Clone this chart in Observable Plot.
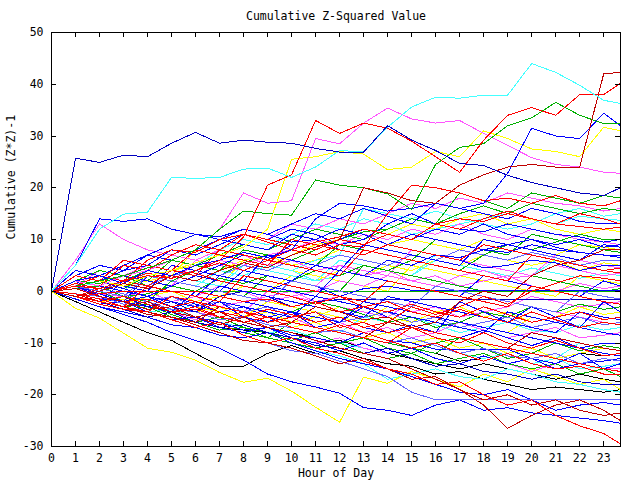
<!DOCTYPE html>
<html><head><meta charset="utf-8">
<script src="https://cdn.jsdelivr.net/npm/d3@7"></script>
<script src="https://cdn.jsdelivr.net/npm/@observablehq/plot@0.6"></script>
<style>body{margin:0;background:#fff;}</style>
</head><body><div id="chart"></div>
<script>
const title = "Cumulative Z-Squared Value";
const xLabel = "Hour of Day";
const yLabel = "Cumulative (Z*Z)-1";
const xTicks = [0,1,2,3,4,5,6,7,8,9,10,11,12,13,14,15,16,17,18,19,20,21,22,23];
const yTicks = [-30,-20,-10,0,10,20,30,40,50];
const hours = [0,1,2,3,4,5,6,7,8,9,10,11,12,13,14,15,16,17,18,19,20,21,22,23,23.7];

const A  = [0,25.7,24.9,26.3,26, 28.6,30.7,28.6,29.2,28.8, 28.6,27.6,26.9,26.9,32, 29.2,27.2,24.7,24.3,22.4, 21,20,19,18.5,20];
const B  = [0,5,12,14.9,15.3, 22,21.8,22,23.6,23.8, 22,24,27.2,26.9,31.7, 35.6,37.5,37.3,37.9,37.9, 44,42.3,39.8,36.9,36.3];
const R1 = [0,1,0.5,2,3, 2.5,4,6,10.5,20.5, 22.5,33,30.5,32.5,31.5, 29,26,23,29.2,34, 35.5,34,38,38,40.2];
const R2 = [0,-1,0,1.5,0.5, 3,2,4,5.5,4.5, 7,8.5,10,20,19, 17.5,17,20.5,22.5,24, 24.5,24,24,42,42.3];
const R3 = [0,1.5,0.5,2,3.5, 2.5,4,5.5,4,6, 8,7,9,8.5,15, 20.5,20,19,17.5,18, 17,18.5,17,16.5,17.5];
const R4 = [0,-1,0.5,2,6, 8,7.5,10,11,9.5, 8,9.5,10.5,12,11, 10,13,14,13.5,15, 14,13,12.5,12,12.4];
const R5 = [0,0.5,-1,-2,-1.5, -3,-2,-4,-5,-3.5, -4.5,-6,-5,-7,-6, -3,-4.5,-3,-1,-2.5, 0,1.5,3,2.5,2];
const R6 = [0,1,3,2,1, 4,3.5,2,1,0, -1,-2.5,-1,-3,-4, -2.5,-4,-5,-3,-4.5, -6,-5,-4,-5.5,-5];
const R7 = [0,-1,-2,-1,-2.5, -4,-3,-5,-4,-6, -5,-4,-7,-6,-8, -7,-9,-10,-8,-10, -11,-9.5,-11,-12.5,-12];
const R8 = [0,-0.5,-2,-3,-4.5, -5,-6.5,-8,-9.5,-10, -11,-12.5,-14,-13,-15, -17,-16.5,-19,-21,-20, -22,-21,-23,-24,-23.5];
const R9 = [0,-1,-2.5,-3.5,-4, -5.5,-7,-6,-8.5,-10, -9,-11,-12,-13.5,-15, -16,-18,-17.5,-20,-22, -21,-24,-26,-27.5,-29.5];
const R10 = [0,0.5,-1,-2,-3.5, -3,-5,-6.5,-5,-7, -8,-9.5,-11,-12,-13, -15,-17,-19,-22,-26.5, -24,-22,-21,-23,-25];
const R11 = [0,2,1,5,4, 7,9,8,11,10, 9,8,10,9,11, 10,13,12,14,15.5, 14,13,15,14,13];
const R12 = [0,-0.5,-1.5,-3,-2, -4,-3.5,-5,-6,-5, -7,-8,-6.5,-8,-9.5, -11,-10,-12,-13.5,-12, -14,-15,-14.5,-16,-16];
const R13 = [0,-1,-2,-3,-2, -4,-5,-4,-6,-7, -6,-3,-4,-5.5,-5, -7,-6,-2,0,-1, 3,5,6,8,8];
const R14 = [0,-1,-0.5,0,0, 0,0,-1,-2,-1.5, -3,-2,-4,-3,-2, -4,-5,-3.5,-5,-6, -4,-5.5,-7,-6,-6.5];
const R15 = [0,1,2,6,5, 4,8,7,6,5, 10,9,8,7,9, 8,7,6,9,8, 7,6,5,4,4.5];
const G1 = [0,1,2,3,4.5, 6,8,12,15.5,15, 14.7,21.5,20.5,20,18.8, 15.8,24.5,27.8,28.5,32, 33.5,36.5,34,32.4,32.5];
const G2 = [0,1,2,0.5,3, 2,4,3,5.5,7, 6,8,10,11.5,12, 14,13,19,17.5,16, 19,18,17,18.5,18];
const G3 = [0,-1,0,-2,-1, -3,-2,-4,-3,-5, -4,-2,-3,-4.5,-6, -5,-7,-6,-4,-5, -3,-4,-2.5,-3.5,-3];
const G4 = [0,-0.5,-2,-3,-2.5, -4.5,-6,-5,-7,-8, -9.5,-8,-10,-9,-11, -12,-10,-9,-11,-13, -12,-10,-11.5,-10.5,-11];
const G5 = [0,2,1.5,3,1, 0,0,0,0,0, 0,0,0,0,0, 0,0,0,0,0, 0,0,0,0,0];
const G6 = [0,-1,-2,-3.5,-3, -5,-6,-7.5,-7,-9, -10,-11,-10,-12,-13, -12,-14,-13,-12,-14, -15,-14,-16,-15,-16.5];
const G7 = [0,0.5,1,-1,-0.5, 1,0,2.5,1.5,3, 2,4,3,5,4, 6,5,4,7,9, 8,9.5,11,10,10];
const G8 = [0,1,3,2,4, 6,5,7,9,8, 10,12,11,10,12, 14,13,15,16.5,15, 17,16,15,16,15.6];
const B2 = [0,2,3,1.5,4, 3,5,6,7.5,6.5, 8,14,17,16.5,15.5, 16,17,16,17,22.8, 31.5,30,29.5,34.4,32];
const B3 = [0,3,2,4,5, 8,7,9,11,10, 12,11,9,10,13, 15,13,12,11.5,13, 12,11,10.5,9.5,10];
const B4 = [0,4,3,5,7, 6,8,10,9,8, 11,10,12,11,9, 11,10,9,8,9, 10,8.5,7.5,7,7];
const B5 = [0,-1,-2,-1,-3, -2,-4,-1,0,-1, -3,-2,-1.6,-1.6,-1.6, -1.6,-1.6,-1.6,-1.6,-1.6, -1.6,-1.6,-1.6,-1.6,-1.6];
const B6 = [0,-1,-0.5,-2,-3, -1,-2.5,-4,-3,-5, -4,-6,-5,-7,-8, -6.5,-8,-9,-7.5,-9, -10.5,-9,-11,-10,-10];
const B7 = [0,-1.5,-3,-4,-5, -6.5,-7,-8.5,-9,-8, -10,-11.5,-13,-14,-15, -16.5,-18,-19.5,-20,-19, -21,-23,-22,-21.5,-22];
const B8 = [0,-1.5,-3,-4.5,-6, -8,-9.5,-11,-13.3,-16, -17.5,-18.5,-19.7,-22.5,-23, -24,-22,-21,-23,-22.5, -23.5,-24,-24.5,-25,-25.5];
const B9 = [0,2,-1,-2,3, 2,1,0,4,3, 2,5,4,3,6, 5,7,6,4.5,5, 6,5.5,4,5,5];
const B10 = [0,-1,-2.5,-2,-4, -5.5,-5,-7,-8,-7, -9,-10,-11.5,-10,-12, -11,-13,-14,-12.5,-14, -13,-15,-14,-13.5,-13];
const B11 = [0,3,5,4,7, 9,11,10,12,11, 13,15,14,16,14.5, 13,17,16,15,14, 16,15,13.5,13,13];
const B12 = [0,-1,-2,-3.5,-5, -4,-6,-7,-6.5,-8, -9,-10.5,-11,-12,-11, -13,-14.5,-14,-15.5,-16, -17,-16,-17.5,-18,-18];
const B13 = [0,-0.5,-1.5,-2,-3.5, -3,-5,-6,-7.5,-7, -8.5,-9,-10,-8,-9.5, -10,-11.2,-11.2,-11.2,-11.2, -13,-14,-12,-15,-14];
const B14 = [0,-1,-2,-3,-4.5, -5,-6.5,-8,-9.5,-10, -11.5,-12,-13.5,-15,-16.5, -19.5,-21,-21,-21,-21, -21,-21,-21,-21,-21];
const B15 = [0,1,0,2,1, 3,4,3,5,4, 6,5,7,6,5, 7,6,8,7,6, 7.5,6.5,5,6,6];
const B16 = [0,-1,0.5,-0.5,-2, -1,-3,-2,-4,-3, -5,-4,-6,-5,-4, -6,-5,-7,-6,-5, -7,-6,-5,-6.5,-6];
const B17 = [0,1,2,0.5,-1, 1,3,2,1,0, 2,1,-1,0.5,1, 0.2,0.2,0.2,0.2,0.2, 0.2,0.2,0.2,0.2,0.2];
const B18 = [0,2,1,3,2, 1,3,5,7,6, 9,8,10,12,11, 10,12,11,13,11, 10,9,10,8.5,9];
const B19 = [0,5,14,13.5,14, 12,11,10.5,12,11, 9.5,10,8,7,9, 8,7,6.5,8,7.5, 9,8,7.5,7,6.5];
const B20 = [0,-0.5,-1,-2.5,-2, -3.5,-4,-5.5,-5,-6.5, -7,-8,-7.5,-9,-10, -9,-10.5,-12,-11,-12.5, -13,-12,-14,-13,-13.5];
const B21 = [0,1,-0.5,-2,-1, -3,-4,-2,-5,-6, -4,-7,-6,-3,-5, -7,-8,-2,-4,-6, -3,-5,-7,-2,-4];
const M1 = [0,2,1,3,4, 6,8,12,19,17, 17.5,29.5,28.5,32.5,35.4, 33.3,32.5,33,30.5,28.2, 25.8,24.5,24,23,22.8];
const M2 = [0,1,3,2,4, 3,5,6,5,7, 8,10,9,11,10, 12,11,13,11,10, 12,11,10,9.5,9];
const M3 = [0,-1,0,2,1, 0,-1,1,0,-2, -1,0,2,1,3, 2,1,3,4,2.5, 3,5,4,3,3.5];
const M4 = [0,-0.5,-1.5,-1,-3, -2,-4,-5,-4,-6, -5,-7,-6,-8,-7, -9,-8,-6,-7.5,-9, -8,-7,-9,-8.5,-8];
const M5 = [0,-1,-2,-3,-2, -4,-5.5,-6,-7.5,-7, -9,-10,-9,-11,-12, -11,-13,-14,-12.5,-14, -15.5,-14,-16,-15,-15];
const M6 = [0,2,4,3,5, 8,7,9,11,10, 13,12,14,13,15, 17,16,18,17,19, 18,17,16.5,15.5,16];
const M7 = [0,0.5,-0.5,-1,0, -2,-1,-3,-2,-1, 0,-2,-1,-3,-2, -4,-3,-5,-4,-3, -1,-2,-3,-2.5,-2];
const M8 = [0,6,13,10,8, 7,6,8,7,5, 6,4,5,3,4, 2,3,1,2,3, 1,0,1.5,0.5,1];
const C2 = [0,1,3,2,4, 6,5,8,10,9, 11,13,12,14,13, 11,12,13,14,15, 14,13,14.5,14,13.7];
const C3 = [0,-1,-0.5,-2,-1, -3,-2,-4,-3,-5, -4,-6,-5,-7,-6, -5,-6.5,-8,-7,-6, -7.5,-8,-6.5,-7.5,-7];
const C4 = [0,-1,-2,-3,-4, -3.5,-5,-6,-7,-8, -7.5,-9,-10,-11,-12, -11,-10,-12,-13,-12, -14,-13,-15,-14.5,-14];
const C5 = [0,0.5,2,1,3, 2,1,4,3,5, 4,2,3,5,4, 3,6,5,4,3, 4.5,3.5,2.5,3.5,3];
const C6 = [0,-1,-2,-3,-4, -5,-6,-7,-8,-9, -10,-11.5,-12.5,-14,-17, -16,-15,-16.5,-17,-15, -16,-17.5,-18,-19,-19.5];
const C7 = [0,1,0,2,1, 3,2,4,3,5, 4,6,7,16,15, 14,15.5,14,13,12, 13,15,16,14.5,15];
const Y1 = [0,-3.3,-5.2,-8.1,-11, -11.8,-13.3,-15.7,-17.6,-16.8, -19.3,-22.4,-25.3,-16.6,-17.8, -15.5,-17,-18.5,-16,-17.5, -15,-16.5,-18,-17,-19];
const Y2 = [0,1,2,1,3, 4,5.5,7,8.5,12, 25.5,26,27,26.5,23.5, 24,27,26,31,29.5, 27.5,27,26,31.7,31];
const Y3 = [0,1,2,1,3, 4,5,4,6,7, 5,6,8,7,9, 10,9,8,10,9, 8,7,9,8.5,8];
const Y4 = [0,-1,0,-2,-1, 0,-2,-1,1,0, 3,2,4,3,5, 4,6,5,7,6, 5,6,4,5.5,5];
const Y5 = [0,-0.5,-1.5,-1,-3, -2,-4,-3,-5,-4, -6,-5,-3,-4,-5, -6,-4,-3,-5,-4, -6,-5,-3,-4.5,-4];
const Y6 = [0,1,2,1,2, 3,8,7,6,5, 7,9,10,12,11, 13,12,14,15,13, 14,12,11,12,11.5];
const Y7 = [0,-1,-2,-1.5,-3, -4,-3,-5,-6,-5, -7,-6,-8,-9,-8, -10,-9,-11,-10,-12, -11,-13,-12,-11,-11.5];
const K1 = [0,-2,-4,-6,-8, -9.5,-12,-14.5,-14.5,-12, -10.5,-12,-11.5,-13,-14, -14.5,-16,-15.5,-17,-18, -19,-18.5,-19,-19.5,-19];
const K2 = [0,-1,-2,-3,-4, -5,-6,-7,-7.5,-8, -9,-10,-9.5,-11,-12, -11,-12,-13.5,-13,-12, -14,-13,-12,-12.5,-12];
const N1 = [0,-1,-2,2,1, 0,-1,3,2,1, 0,-1,4,3,2, 1,0,-1,3,2, 1,0,-1,2,1];
const N2 = [0,-1,-2,-3,1, 0,-1,-2,3,2, 1,0,-1,-2,2, 1,0,-1,-2,-3, 1,0,-1,-2,-2.5];
const N3 = [0,1,0,-1,-2, 2,1,0,-1,3, 2,1,0,5,4, 3,2,1,0,-1, 3,2,1,0,0.5];
const N4 = [0,-1,-2,-3,-4, -1,-2,-3,-4,0, -1,-2,-3,-4,-5, -2,-3,-4,-5,-6, -3,-4,-5,-6,-6.5];
const N5 = [0,2,1,0,4, 3,2,1,5,4, 3,2,6,5,4, 3,7,6,5,4, 3,6,5,4,4.5];
const N6 = [0,-1,-2,-3,-1, -2,-3,-4,-5,-2, -3,-4,-5,-6,-3, -4,-5,-6,-7,-8, -5,-6,-7,-8,-8.5];
const N7 = [0,3,2,1,0, 5,4,3,2,7, 6,5,4,9,8, 7,6,5,10,9, 8,7,6,9,8.5];
const N8 = [0,-1,-2,-3,-4, -5,-6,-3,-4,-5, -6,-7,-8,-9,-6, -7,-8,-9,-10,-11, -8,-9,-10,-11,-11.5];
const N9 = [0,1,0,-1,3, 2,1,0,-1,-2, 2,1,0,-1,-2, -3,1,0,-1,-2, -3,-4,0,-1,-1.5];
const N10 = [0,-1,-2,-3,-4, -5,-6,-7,-8,-9, -6,-7,-8,-9,-10, -11,-12,-9,-10,-11, -12,-13,-14,-15,-15.5];
const N11 = [0,2,1,0,-1, -2,-3,1,0,-1, -2,-3,-4,-5,-1, -2,-3,-4,-5,-6, -7,-8,-4,-5,-5.5];
const N12 = [0,3,2,6,5, 4,3,8,7,6, 5,4,3,8,7, 6,5,4,3,2, 7,6,5,4,3.5];
const N13 = [0,1,4,3,2, 1,6,5,4,3, 2,1,5,4,3, 8,7,6,5,4, 3,7,6,5,4.5];
const N14 = [0,-1,-2,-3,-4, -5,-2,-3,-4,-5, -6,-7,-8,-5,-6, -7,-8,-9,-10,-11, -12,-13,-10,-11,-11.5];
const N15 = [0,-1,-2,-3,-4, -5,-6,-5,-6,-7, -8,-9,-10,-11,-12, -13,-14,-15,-14,-15, -16,-17,-16,-17,-17.5];
const N16 = [0,1,-1,-2,-3, -4,0,-1,-2,-3, -4,-5,-6,-2,-3, -4,-5,-6,-7,-8, -9,-10,-11,-12,-12.5];
const N17 = [0,2,1,5,4, 3,2,1,6,5, 4,3,2,1,0, 5,4,3,2,1, 0,-1,3,2,1.5];
const N18 = [0,-1,-2,-3,-4, -1,-2,-3,-4,-5, -6,-7,-8,-9,-10, -7,-8,-9,-10,-11, -12,-13,-14,-15,-15.5];
const N19 = [0,2,4,3,2, 6,5,4,8,7, 6,5,9,8,7, 6,10,9,8,7, 11,10,9,8,7.5];
const N20 = [0,-1,-2,-3,1, 0,-1,-2,-3,-4, -5,-1,-2,-3,-4, -5,-6,-7,-8,-4, -5,-6,-7,-8,-8.5];

const RED="#ff0000", DRED="#c00000", GREEN="#00b000", BLUE="#0000ff", DBLUE="#0000c0",
      LBLUE="#6464ff", MAG="#ff55ff", CYAN="#44ffff", YEL="#ffff00", BLK="#000000";

const seriesList = [
  ["K1",BLK,K1],["K2",BLK,K2],["N15",BLK,N15],
  ["Y1",YEL,Y1],["Y3",YEL,Y3],["Y4",YEL,Y4],["Y5",YEL,Y5],["Y6",YEL,Y6],["Y7",YEL,Y7],["N6",YEL,N6],["N17",YEL,N17],
  ["C3",CYAN,C3],["C4",CYAN,C4],["C5",CYAN,C5],["C6",CYAN,C6],["C2",CYAN,C2],["C7",CYAN,C7],["N5",CYAN,N5],["N14",CYAN,N14],
  ["M2",MAG,M2],["M3",MAG,M3],["M4",MAG,M4],["M5",MAG,M5],["M6",MAG,M6],["M7",MAG,M7],["M8",MAG,M8],["N4",MAG,N4],["N13",MAG,N13],
  ["G3",GREEN,G3],["G4",GREEN,G4],["G5",GREEN,G5],["G6",GREEN,G6],["G7",GREEN,G7],["G8",GREEN,G8],["G2",GREEN,G2],
  ["N3",GREEN,N3],["N10",GREEN,N10],["N19",GREEN,N19],
  ["B3",BLUE,B3],["B4",BLUE,B4],["B6",BLUE,B6],["B7",BLUE,B7],["B8",BLUE,B8],["B9",BLUE,B9],["B10",BLUE,B10],
  ["B11",BLUE,B11],["B12",DBLUE,B12],["B13",BLUE,B13],["B14",LBLUE,B14],["B15",LBLUE,B15],["B16",LBLUE,B16],
  ["B17",BLUE,B17],["B18",BLUE,B18],["B19",BLUE,B19],["B20",LBLUE,B20],["B21",BLUE,B21],["B5",DBLUE,B5],
  ["N1",BLUE,N1],["N7",BLUE,N7],["N9",LBLUE,N9],["N11",BLUE,N11],["N16",BLUE,N16],["N20",BLUE,N20],
  ["R3",RED,R3],["R4",RED,R4],["R5",RED,R5],["R6",RED,R6],["R7",RED,R7],["R8",DRED,R8],["R9",RED,R9],
  ["R10",DRED,R10],["R11",RED,R11],["R12",RED,R12],["R13",DRED,R13],["R14",RED,R14],["R15",RED,R15],
  ["N2",RED,N2],["N8",DRED,N8],["N12",RED,N12],["N18",RED,N18],
  ["Y2",YEL,Y2],["M1",MAG,M1],["B2",BLUE,B2],["G1",GREEN,G1],["R2",DRED,R2],["R1",RED,R1],["B",CYAN,B],["A",DBLUE,A]
];

const rows = seriesList.flatMap(([name, color, vals]) =>
  vals.map((v, i) => ({name, color, hour: hours[i], value: v})));

const FONT = "'DejaVu Sans Mono', monospace";
const chart = Plot.plot({
  width: 640, height: 480,
  marginTop: 32, marginRight: 20, marginBottom: 34, marginLeft: 51,
  style: {fontFamily: FONT, fontSize: "11.5px", background: "#fff", color: "#000"},
  x: {domain: [0, 23.7]},
  y: {domain: [-30, 50]},
  marks: [
    Plot.line(rows, {x: "hour", y: "value", z: "name", stroke: "color", strokeWidth: 1, shapeRendering: "crispEdges"}),
    Plot.frame({stroke: "#000", shapeRendering: "crispEdges"}),
    Plot.axisX({ticks: xTicks, tickSize: 0, tickPadding: 7, tickFormat: d => String(d), label: null, fill: "#000"}),
    Plot.axisY({ticks: yTicks, tickSize: 0, tickPadding: 8, tickFormat: d => String(d), label: null, fill: "#000"}),
    Plot.text([title], {frameAnchor: "top", lineAnchor: "middle", dy: -16, fill: "#000"}),
    Plot.text([xLabel], {frameAnchor: "bottom", lineAnchor: "middle", dy: 27, fill: "#000"}),
    Plot.text([yLabel], {frameAnchor: "left", lineAnchor: "middle", dx: -40, rotate: -90, fill: "#000"})
  ]
});

// inward mirror ticks, positioned through the plot's own scales
const sx = chart.scale("x"), sy = chart.scale("y");
const L = sx.apply(sx.domain[0]), R = sx.apply(sx.domain[1]);
const T = sy.apply(sy.domain[1]), Bt = sy.apply(sy.domain[0]);
const tickLen = 5;
const g = d3.select(chart).append("g").attr("stroke", "#000").attr("shape-rendering", "crispEdges");
xTicks.forEach(t => {
  const px = Math.round(sx.apply(t)) + 0.5;
  g.append("line").attr("x1", px).attr("x2", px).attr("y1", Bt).attr("y2", Bt - tickLen);
  g.append("line").attr("x1", px).attr("x2", px).attr("y1", T).attr("y2", T + tickLen);
});
yTicks.forEach(t => {
  const py = Math.round(sy.apply(t)) + 0.5;
  g.append("line").attr("y1", py).attr("y2", py).attr("x1", L).attr("x2", L + tickLen);
  g.append("line").attr("y1", py).attr("y2", py).attr("x1", R).attr("x2", R - tickLen);
});

document.getElementById("chart").appendChild(chart);
</script>
</body></html>
